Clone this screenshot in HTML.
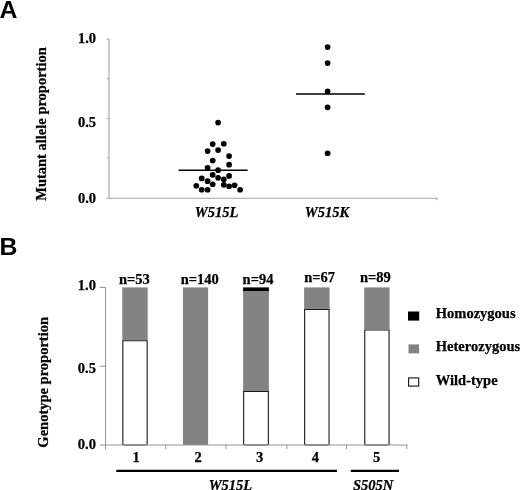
<!DOCTYPE html>
<html><head><meta charset="utf-8"><title>Figure</title>
<style>
html,body{margin:0;padding:0;background:#fff;}
body{width:520px;height:490px;overflow:hidden;position:relative;}
svg{position:absolute;left:0;top:0;display:block;will-change:transform;}
text{font-family:"Liberation Serif",serif;font-weight:bold;fill:#000;stroke:#000;stroke-width:0.25px;}
.s{font-family:"Liberation Sans",sans-serif;font-weight:bold;stroke:none;}
.i{font-style:italic;}
</style></head><body>
<svg width="520" height="490" viewBox="0 0 520 490">
<rect x="0" y="0" width="520" height="490" fill="#fff"/>
<text class="s" x="-0.4" y="17.6" font-size="24.8">A</text>
<text class="s" x="-0.6" y="255" font-size="24.8">B</text>
<g stroke="#a4a4a4" stroke-width="1.1" fill="none"><path d="M109 38.5V198.3M106.8 198.3H437.3"/></g>
<g stroke="#a4a4a4" stroke-width="1" fill="none"><path d="M106.6 39.2H109"/><path d="M106.6 78.8H109"/><path d="M106.6 118.4H109"/><path d="M106.6 158.0H109"/><path d="M436.8 198V200.2"/></g>
<text x="96" y="43.4" font-size="14.5" text-anchor="end">1.0</text>
<text x="96" y="126.7" font-size="14.5" text-anchor="end">0.5</text>
<text x="96" y="203.1" font-size="14.5" text-anchor="end">0.0</text>
<text transform="translate(46.4,124) rotate(-90)" font-size="14.5" text-anchor="middle">Mutant allele proportion</text>
<g fill="#000"><circle cx="218.1" cy="122.55" r="2.85"/><circle cx="212.7" cy="144.04999999999998" r="2.85"/><circle cx="223.8" cy="143.75" r="2.85"/><circle cx="207.6" cy="151.04999999999998" r="2.85"/><circle cx="218.1" cy="150.04999999999998" r="2.85"/><circle cx="229.1" cy="156.04999999999998" r="2.85"/><circle cx="212.7" cy="160.54999999999998" r="2.85"/><circle cx="229.1" cy="164.64999999999998" r="2.85"/><circle cx="207.6" cy="167.75" r="2.85"/><circle cx="218.1" cy="170.14999999999998" r="2.85"/><circle cx="212.7" cy="174.85" r="2.85"/><circle cx="229.1" cy="175.95" r="2.85"/><circle cx="201.7" cy="178.45" r="2.85"/><circle cx="218.1" cy="177.85" r="2.85"/><circle cx="223.8" cy="179.45" r="2.85"/><circle cx="207.6" cy="181.14999999999998" r="2.85"/><circle cx="212.7" cy="184.25" r="2.85"/><circle cx="196.3" cy="185.75" r="2.85"/><circle cx="223.8" cy="184.85" r="2.85"/><circle cx="229.1" cy="186.25" r="2.85"/><circle cx="234.6" cy="185.25" r="2.85"/><circle cx="201.7" cy="189.75" r="2.85"/><circle cx="207.6" cy="189.75" r="2.85"/><circle cx="240.1" cy="189.75" r="2.85"/><circle cx="327.6" cy="47.050000000000004" r="2.85"/><circle cx="327.6" cy="63.050000000000004" r="2.85"/><circle cx="327.6" cy="91.45" r="2.85"/><circle cx="327.6" cy="107.35000000000001" r="2.85"/><circle cx="327.6" cy="153.25" r="2.85"/></g>
<path d="M178.5 170.25H247.6M296 94.0H364.8" stroke="#000" stroke-width="1.65" fill="none"/>
<text class="i" x="216.5" y="217.4" font-size="14.5" text-anchor="middle">W515L</text>
<text class="i" x="326.9" y="217.4" font-size="14.5" text-anchor="middle">W515K</text>
<rect x="122.3" y="287.4" width="25.4" height="52.8" fill="#838383"/><rect x="122.3" y="340.2" width="25.4" height="104.8" fill="#fff"/><path d="M122.85 445.0V340.75H147.15V445.0" fill="none" stroke="#181818" stroke-width="1.1"/><rect x="183.0" y="287.4" width="25.1" height="157.6" fill="#838383"/><rect x="243.1" y="287.4" width="25.8" height="3.6" fill="#000"/><rect x="243.1" y="291.0" width="25.8" height="100.0" fill="#838383"/><rect x="243.1" y="391.0" width="25.8" height="54.0" fill="#fff"/><path d="M243.65 445.0V391.55H268.35V445.0" fill="none" stroke="#181818" stroke-width="1.1"/><rect x="304.1" y="287.4" width="25.5" height="21.4" fill="#838383"/><rect x="304.1" y="308.8" width="25.5" height="136.2" fill="#fff"/><path d="M304.65 445.0V309.35H329.05V445.0" fill="none" stroke="#181818" stroke-width="1.1"/><rect x="364.2" y="287.4" width="25.4" height="42.1" fill="#838383"/><rect x="364.2" y="329.5" width="25.4" height="115.5" fill="#fff"/><path d="M364.75 445.0V330.05H389.05V445.0" fill="none" stroke="#181818" stroke-width="1.1"/>
<g stroke="#939393" stroke-width="1" fill="none"><path d="M105.5 287.4V449.4M99.6 445.0H407.5"/><path d="M99.6 287.4H105.5"/><path d="M99.6 366.2H105.5"/><path d="M165.8 445.0V449"/><path d="M226.0 445.0V449"/><path d="M286.8 445.0V449"/><path d="M346.6 445.0V449"/><path d="M406.8 445.0V449"/></g>
<path d="M123.40 445.0H146.60" stroke="#555" stroke-width="1" fill="none"/><path d="M244.20 445.0H267.80" stroke="#555" stroke-width="1" fill="none"/><path d="M305.20 445.0H328.50" stroke="#555" stroke-width="1" fill="none"/><path d="M365.30 445.0H388.50" stroke="#555" stroke-width="1" fill="none"/>
<text x="95.9" y="289.7" font-size="14.5" text-anchor="end">1.0</text>
<text x="95.9" y="372.8" font-size="14.5" text-anchor="end">0.5</text>
<text x="95.9" y="449.4" font-size="14.5" text-anchor="end">0.0</text>
<text transform="translate(47.8,382.3) rotate(-90)" font-size="14.5" text-anchor="middle">Genotype proportion</text>
<text x="134.4" y="283.7" font-size="14.5" text-anchor="middle">n=53</text>
<text x="199.7" y="283.7" font-size="14.5" text-anchor="middle">n=140</text>
<text x="258" y="283.7" font-size="14.5" text-anchor="middle">n=94</text>
<text x="319.7" y="282.0" font-size="14.5" text-anchor="middle">n=67</text>
<text x="375.4" y="282.0" font-size="14.5" text-anchor="middle">n=89</text>
<text x="136.2" y="462" font-size="14.5" text-anchor="middle">1</text>
<text x="198" y="462" font-size="14.5" text-anchor="middle">2</text>
<text x="259.6" y="462" font-size="14.5" text-anchor="middle">3</text>
<text x="315.4" y="462" font-size="14.5" text-anchor="middle">4</text>
<text x="376.6" y="462" font-size="14.5" text-anchor="middle">5</text>
<path d="M116.3 470.9H337M350.8 470.9H399" stroke="#000" stroke-width="2.2" fill="none"/>
<text class="i" x="230.4" y="490.0" font-size="14.5" text-anchor="middle">W515L</text>
<text class="i" x="373.2" y="490.0" font-size="14.5" text-anchor="middle">S505N</text>
<rect x="408" y="311.5" width="11.2" height="9.1" fill="#000"/><rect x="408.5" y="344.4" width="10.6" height="9" fill="#838383"/><rect x="408.6" y="377.9" width="10.1" height="8.2" fill="#fff" stroke="#111" stroke-width="1.1"/>
<text x="435.8" y="318" font-size="14.5">Homozygous</text>
<text x="435.8" y="351" font-size="14.5">Heterozygous</text>
<text x="435.8" y="384.5" font-size="14.5">Wild-type</text>
</svg>
</body></html>
